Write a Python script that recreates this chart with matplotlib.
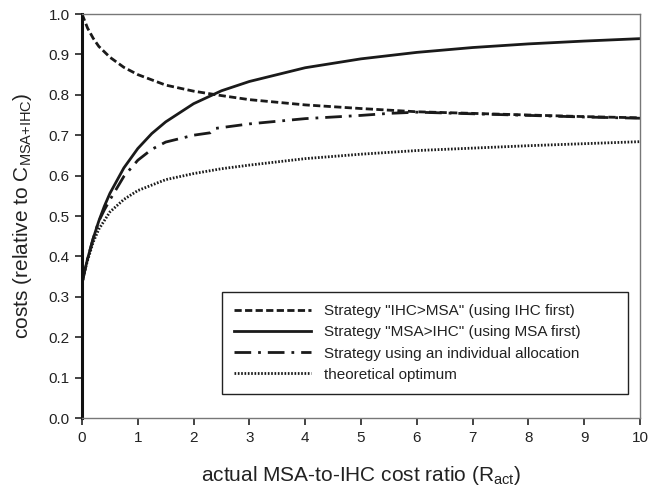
import matplotlib
matplotlib.use("Agg")
import matplotlib.pyplot as plt

plt.rcParams['font.family'] = ['Liberation Sans', 'DejaVu Sans']
plt.rcParams['mathtext.fontset'] = 'custom'
plt.rcParams['mathtext.rm'] = 'Liberation Sans'
plt.rcParams['mathtext.it'] = 'Liberation Sans:italic'

# Data
x_ihc = [0, 0.1, 0.2, 0.3, 0.5, 0.75, 1, 1.5, 2, 2.5, 3, 4, 5, 6, 7, 8, 9, 10]
y_ihc = [1.0, 0.965, 0.94, 0.92, 0.893, 0.868, 0.850, 0.824, 0.809, 0.798, 0.788, 0.775, 0.766, 0.758, 0.754, 0.750, 0.746, 0.743]

x_msa = [0, 0.05, 0.1, 0.2, 0.3, 0.4, 0.5, 0.75, 1, 1.25, 1.5, 2, 2.5, 3, 4, 5, 6, 7, 8, 9, 10]
y_msa = [0.333, 0.365, 0.394, 0.444, 0.487, 0.524, 0.556, 0.619, 0.667, 0.704, 0.733, 0.778, 0.810, 0.833, 0.867, 0.889, 0.905, 0.917, 0.926, 0.933, 0.939]

x_ind = [0, 0.05, 0.1, 0.2, 0.3, 0.4, 0.5, 0.75, 1, 1.25, 1.5, 2, 2.3, 2.4, 3, 4, 5, 5.5, 6, 7, 8, 9, 10]
y_ind = [0.333, 0.365, 0.394, 0.444, 0.487, 0.515, 0.540, 0.598, 0.638, 0.665, 0.683, 0.700, 0.706, 0.717, 0.728, 0.741, 0.749, 0.754, 0.757, 0.753, 0.749, 0.745, 0.742]

x_opt = [0, 0.05, 0.1, 0.2, 0.3, 0.5, 0.75, 1, 1.5, 2, 2.5, 3, 4, 5, 6, 7, 8, 9, 10]
y_opt = [0.333, 0.365, 0.39, 0.435, 0.467, 0.510, 0.541, 0.563, 0.590, 0.605, 0.617, 0.626, 0.642, 0.653, 0.662, 0.668, 0.674, 0.679, 0.684]

labels = ['Strategy "IHC>MSA" (using IHC first)',
          'Strategy "MSA>IHC" (using MSA first)',
          'Strategy using an individual allocation',
          'theoretical optimum']

xticks = list(range(0, 11))
yticks = [0.0, 0.1, 0.2, 0.3, 0.4, 0.5, 0.6, 0.7, 0.8, 0.9, 1.0]

fig = plt.figure(figsize=(6.49, 4.87), dpi=100)
ax = fig.add_axes([82/649, 1-418/487, 558/649, 404/487])

col = '#1a1a1a'
ax.plot(x_ihc, y_ihc, color=col, lw=2.0, linestyle=(0, (2.6, 1.2)), label=labels[0])
ax.plot(x_msa, y_msa, color=col, lw=2.0, linestyle='-', label=labels[1])
ax.plot(x_ind, y_ind, color=col, lw=2.0, linestyle=(0, (6, 2.5, 1, 2.5)), label=labels[2])
ax.plot(x_opt, y_opt, color=col, lw=2.0, linestyle=(0, (0.6, 0.6)), label=labels[3])

ax.set_xlim(0, 10)
ax.set_ylim(0, 1.0)
ax.set_xticks(xticks)
ax.set_xticklabels([str(t) for t in xticks])
ax.set_yticks(yticks)
ax.set_yticklabels([f"{t:.1f}" for t in yticks])

for s in ['top', 'right', 'bottom']:
    ax.spines[s].set_color('#777777')
    ax.spines[s].set_linewidth(1.0)
ax.spines['left'].set_color('#111111')
ax.spines['left'].set_linewidth(2.2)

ax.tick_params(axis='both', direction='out', length=5, width=1.2, color='#222222',
               labelsize=11, labelcolor='#222222', pad=4)

ax.set_xlabel(r'actual MSA-to-IHC cost ratio (R$_{\mathrm{act}}$)', fontsize=15, color='#222222', labelpad=14)
ax.set_ylabel(r'costs (relative to C$_{\mathrm{MSA{+}IHC}}$)', fontsize=15, color='#222222', labelpad=10)

leg = ax.legend(loc='lower left', bbox_to_anchor=(0.2509, 0.0594, 0.7276, 0.26), mode='expand',
                fontsize=11,
                frameon=True, fancybox=False, edgecolor='#222222', framealpha=1,
                handlelength=5.0, handletextpad=0.9, labelspacing=0.47,
                borderpad=0.8, borderaxespad=0)
leg.get_frame().set_linewidth(1.0)
for t in leg.get_texts():
    t.set_color('#222222')

fig.savefig('out.png', dpi=100)
